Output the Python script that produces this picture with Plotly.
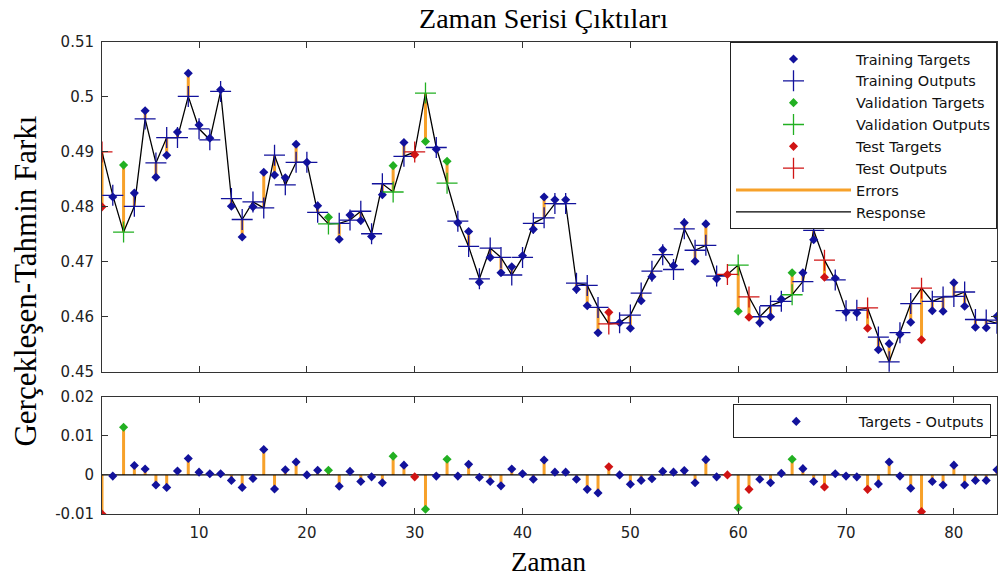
## Import packages:
# ============================================================================
import numpy as np
import plotly.graph_objects as go

## Data:
# ============================================================================
zaman = list(range(1, 85))

outputs = [
    0.4900, 0.4821, 0.4754, 0.4801, 0.4960, 0.4880, 0.4926, 0.4926, 0.5001, 0.4942,
    0.4922, 0.5010, 0.4815, 0.4777, 0.4809, 0.4798, 0.4894, 0.4840, 0.4881, 0.4881,
    0.4790, 0.4769, 0.4770, 0.4776, 0.4792, 0.4751, 0.4842, 0.4827, 0.4892, 0.4900,
    0.5007, 0.4908, 0.4843, 0.4774, 0.4728, 0.4669, 0.4725, 0.4708, 0.4676, 0.4708,
    0.4770, 0.4780, 0.4806, 0.4806, 0.4661, 0.4657, 0.4617, 0.4587, 0.4589, 0.4603,
    0.4643, 0.4683, 0.4713, 0.4686, 0.4760, 0.4721, 0.4730, 0.4674, 0.4677, 0.4694,
    0.4636, 0.4600, 0.4620, 0.4628, 0.4640, 0.4664, 0.4757, 0.4703, 0.4667, 0.4611,
    0.4612, 0.4616, 0.4563, 0.4518, 0.4571, 0.4624, 0.4652, 0.4628, 0.4636, 0.4637,
    0.4645, 0.4595, 0.4594, 0.4588,
]

targets = [
    0.4800, 0.4818, 0.4876, 0.4825, 0.4975, 0.4854, 0.4894, 0.4936, 0.5043, 0.4949,
    0.4925, 0.5013, 0.4801, 0.4745, 0.4800, 0.4863, 0.4858, 0.4853, 0.4914, 0.4881,
    0.4802, 0.4781, 0.4741, 0.4785, 0.4775, 0.4746, 0.4822, 0.4875, 0.4917, 0.4895,
    0.4919, 0.4905, 0.4883, 0.4771, 0.4755, 0.4663, 0.4708, 0.4680, 0.4691, 0.4711,
    0.4759, 0.4818, 0.4813, 0.4813, 0.4650, 0.4620, 0.4571, 0.4608, 0.4589, 0.4579,
    0.4629, 0.4673, 0.4722, 0.4693, 0.4771, 0.4701, 0.4769, 0.4669, 0.4677, 0.4610,
    0.4599, 0.4589, 0.4600, 0.4632, 0.4680, 0.4680, 0.4740, 0.4672, 0.4670, 0.4608,
    0.4607, 0.4579, 0.4540, 0.4551, 0.4568, 0.4590, 0.4558, 0.4611, 0.4610, 0.4662,
    0.4619, 0.4581, 0.4580, 0.4601,
]

validation_idx = [3, 22, 28, 31, 33, 60, 65]
test_idx = [1, 30, 48, 59, 61, 68, 72, 77]

top_ticks = [0.45, 0.46, 0.47, 0.48, 0.49, 0.5, 0.51]
top_ticktext = ['0.45', '0.46', '0.47', '0.48', '0.49', '0.5', '0.51']
bottom_ticks = [-0.01, 0, 0.01, 0.02]
bottom_ticktext = ['-0.01', '0', '0.01', '0.02']
x_ticks = [10, 20, 30, 40, 50, 60, 70, 80]

## Kleuren en fonts:
# ======================================
blauw = '#12129c'
groen = '#22b022'
rood = '#d01414'
oranje = '#f7a12a'
serif = 'Liberation Serif, Times New Roman, serif'
sans = 'DejaVu Sans, Arial, sans-serif'

x = np.array(zaman)
t = np.array(targets)
o = np.array(outputs)
err = t - o

groep = np.array(['train'] * len(x), dtype=object)
groep[np.isin(x, validation_idx)] = 'val'
groep[np.isin(x, test_idx)] = 'test'

fig = go.Figure()

## Errors bovenste plot (target -> output):
# ======================================
ex, ey = [], []
for xi, ti, oi in zip(x, t, o):
    ex += [xi, xi, None]
    ey += [ti, oi, None]
fig.add_trace(go.Scatter(
    x=ex, y=ey, mode='lines', name='Errors',
    line=dict(color=oranje, width=3),
    legendrank=7, hoverinfo='none', xaxis='x2', yaxis='y2'))

## Response lijn:
# ======================================
fig.add_trace(go.Scatter(
    x=x, y=o, mode='lines', name='Response',
    line=dict(color='black', width=1.3),
    legendrank=8, hoverinfo='none', xaxis='x2', yaxis='y2'))

## Targets en outputs per groep:
# ======================================
groepen = [
    ('train', 'Training', blauw),
    ('val', 'Validation', groen),
    ('test', 'Test', rood),
]
rank = 1
for key, naam, kleur in groepen:
    m = groep == key
    fig.add_trace(go.Scatter(
        x=x[m], y=t[m], mode='markers', name=f'{naam} Targets',
        marker=dict(symbol='diamond', size=7, color=kleur),
        legendrank=rank, hoverinfo='none', xaxis='x2', yaxis='y2'))
    fig.add_trace(go.Scatter(
        x=x[m], y=o[m], mode='markers', name=f'{naam} Outputs',
        marker=dict(symbol='cross-thin', size=15, line=dict(color=kleur, width=1.3)),
        legendrank=rank + 1, hoverinfo='none', xaxis='x2', yaxis='y2'))
    rank += 2

## Onderste plot: errors als stelen:
# ======================================
sx, sy = [], []
for xi, ei in zip(x, err):
    sx += [xi, xi, None]
    sy += [0, ei, None]
fig.add_trace(go.Scatter(
    x=sx, y=sy, mode='lines', line=dict(color=oranje, width=3),
    showlegend=False, hoverinfo='none', xaxis='x', yaxis='y'))
fig.add_trace(go.Scatter(
    x=[1, 84], y=[0, 0], mode='lines', line=dict(color='black', width=1.3),
    showlegend=False, hoverinfo='none', xaxis='x', yaxis='y'))
for key, naam, kleur in groepen:
    m = groep == key
    fig.add_trace(go.Scatter(
        x=x[m], y=err[m], mode='markers',
        name='Targets - Outputs', showlegend=(key == 'train'),
        legend='legend2',
        marker=dict(symbol='diamond', size=7, color=kleur),
        hoverinfo='none', xaxis='x', yaxis='y'))

## Assen:
# ======================================
as_stijl = dict(
    showline=True, linecolor='#333333', linewidth=1, mirror='ticks',
    ticks='inside', ticklen=6, tickcolor='#333333',
    showgrid=False, zeroline=False,
    tickfont=dict(family=sans, size=15, color='#222222'),
)

legend_stijl = dict(
    xanchor='right', yanchor='top',
    bgcolor='white', bordercolor='#222222', borderwidth=1,
    font=dict(family=sans, size=14.5, color='#111111'),
    tracegroupgap=0, itemwidth=115,
)

fig.update_layout(
    width=998, height=578,
    margin=dict(l=102, r=1, t=42, b=64),
    paper_bgcolor='white', plot_bgcolor='white',
    showlegend=True,
    title=dict(
        text='Zaman Serisi Çıktıları', x=0.5446, xanchor='center', y=0.969, yanchor='middle',
        font=dict(family=serif, size=28, color='black')),
    xaxis=dict(range=[1, 84], tickvals=x_ticks, anchor='y', ticklabelstandoff=5, **as_stijl),
    xaxis2=dict(range=[1, 84], tickvals=x_ticks, showticklabels=False,
                anchor='y2', matches='x', **as_stijl),
    yaxis=dict(domain=[0, 0.2485], range=[-0.01, 0.02], ticklabelstandoff=4,
               tickvals=bottom_ticks, ticktext=bottom_ticktext, anchor='x', **as_stijl),
    yaxis2=dict(domain=[0.3015, 1], range=[0.45, 0.51], ticklabelstandoff=4,
                tickvals=top_ticks, ticktext=top_ticktext, anchor='x2', **as_stijl),
    legend=dict(x=1, y=1, **legend_stijl),
    legend2=dict(x=0.993, y=0.232, **legend_stijl),
    annotations=[
        dict(text='Zaman', xref='paper', yref='paper', x=0.4994, y=-0.1017,
             xanchor='center', yanchor='middle', showarrow=False,
             font=dict(family=serif, size=27, color='black')),
        dict(text='Gerçekleşen-Tahmin Farkı', xref='paper', yref='paper', x=-0.086, y=0.4926,
             xanchor='center', yanchor='middle', showarrow=False, textangle=-90,
             font=dict(family=serif, size=31, color='black')),
    ],
)

## Pagina zonder body-marge, zodat de figuur het venster precies vult:
# ======================================
fig.write_html(
    "out.html",
    config={'displayModeBar': False},
    post_script="document.body.style.margin='0px';",
)
